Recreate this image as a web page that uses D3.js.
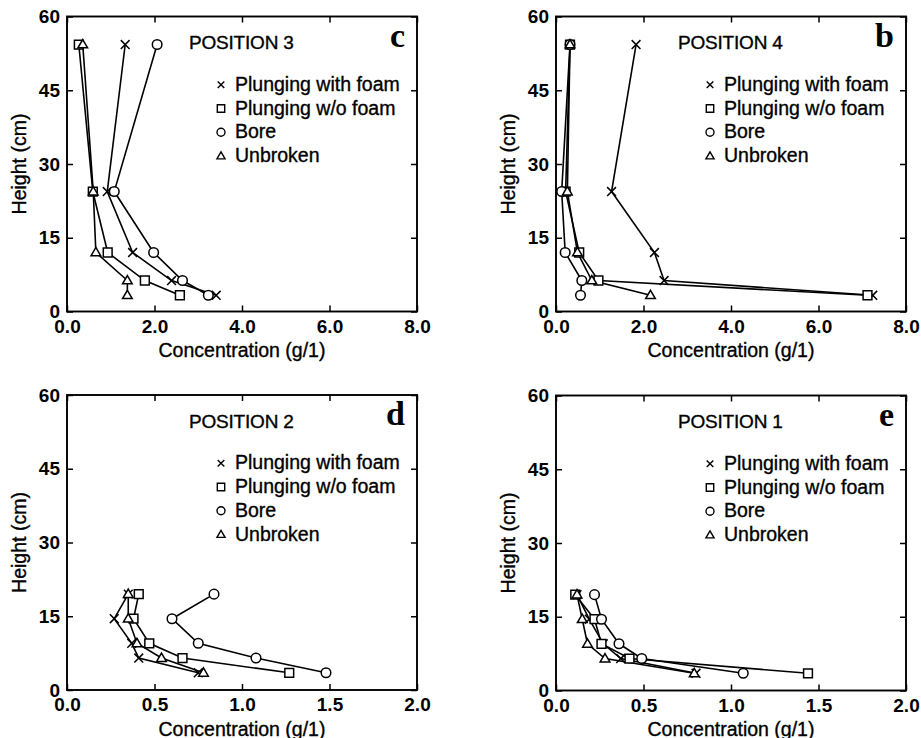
<!DOCTYPE html>
<html>
<head>
<meta charset="utf-8">
<script src="https://cdn.jsdelivr.net/npm/d3@7"></script>
<style>
  html, body { margin: 0; padding: 0; background: #fff; }
  svg { display: block; font-family: "Liberation Sans", Arial, Helvetica, sans-serif; }
</style>
</head>
<body>
<svg id="chart" width="921" height="738"></svg>
<script>
// Suspended sediment concentration profiles at four measuring positions
const seriesNames = ["Plunging with foam", "Plunging w/o foam", "Bore", "Unbroken"];
const seriesSymbols = ["x", "square", "circle", "triangle"];

// Sampling heights (cm)
const upperHeights = [54.3, 24.4, 12.0, 6.3, 3.3];
const lowerHeights = [19.5, 14.5, 9.5, 6.5, 3.5];

// Position 3 concentrations (g/l)
const pos3Foam     = [1.33, 0.92, 1.50, 2.39, 3.41];
const pos3NoFoam   = [0.27, 0.59, 0.93, 1.78, 2.58];
const pos3Bore     = [2.06, 1.08, 1.98, 2.64, 3.23];
const pos3Unbroken = [0.36, 0.60, 0.66, 1.38, 1.38];

// Position 4
const pos4Foam     = [1.83, 1.27, 2.25, 2.47, 7.24];
const pos4NoFoam   = [0.32, 0.22, 0.53, 0.97, 7.12];
const pos4Bore     = [0.32, 0.13, 0.21, 0.59, 0.56];
const pos4Unbroken = [0.32, 0.26, 0.49, 0.82, 2.16];

// Position 2
const pos2Foam     = [0.35, 0.27, 0.37, 0.41, 0.75];
const pos2NoFoam   = [0.41, 0.38, 0.47, 0.66, 1.27];
const pos2Bore     = [0.84, 0.60, 0.75, 1.08, 1.48];
const pos2Unbroken = [0.35, 0.35, 0.40, 0.54, 0.78];

// Position 1
const pos1Foam     = [0.12, 0.19, 0.27, 0.37, 0.80];
const pos1NoFoam   = [0.11, 0.22, 0.26, 0.42, 1.44];
const pos1Bore     = [0.22, 0.26, 0.36, 0.49, 1.07];
const pos1Unbroken = [0.12, 0.15, 0.18, 0.28, 0.79];

// Axis ticks
const upperXTicks = [0, 2, 4, 6, 8];
const lowerXTicks = [0, 0.5, 1, 1.5, 2];
const yTicks = [0, 15, 30, 45, 60];

const panelTitles = ["POSITION 3", "POSITION 4", "POSITION 2", "POSITION 1"];
const panelLetters = ["c", "b", "d", "e"];
const xTitle = "Concentration (g/1)";
const yTitle = "Height (cm)";

// Panel setup
const panels = [
  { left: 67,  top: 16.5, xMax: 8, xTicks: upperXTicks, heights: upperHeights,
    values: [pos3Foam, pos3NoFoam, pos3Bore, pos3Unbroken], title: panelTitles[0], letter: panelLetters[0] },
  { left: 556, top: 16.5, xMax: 8, xTicks: upperXTicks, heights: upperHeights,
    values: [pos4Foam, pos4NoFoam, pos4Bore, pos4Unbroken], title: panelTitles[1], letter: panelLetters[1] },
  { left: 67,  top: 395,  xMax: 2, xTicks: lowerXTicks, heights: lowerHeights,
    values: [pos2Foam, pos2NoFoam, pos2Bore, pos2Unbroken], title: panelTitles[2], letter: panelLetters[2] },
  { left: 556, top: 395.5, xMax: 2, xTicks: lowerXTicks, heights: lowerHeights,
    values: [pos1Foam, pos1NoFoam, pos1Bore, pos1Unbroken], title: panelTitles[3], letter: panelLetters[3] }
];

const W = 350, H = 295;
const svg = d3.select("#chart");

// Open marker shapes, r = half-size
function markerPath(kind, r) {
  const p = d3.path();
  if (kind === "x") {
    p.moveTo(-r, -r); p.lineTo(r, r);
    p.moveTo(-r, r); p.lineTo(r, -r);
  } else if (kind === "square") {
    p.rect(-r, -r, 2 * r, 2 * r);
  } else if (kind === "circle") {
    p.arc(0, 0, r, 0, 2 * Math.PI);
  } else if (kind === "triangle") {
    const h = r * 1.9;
    p.moveTo(0, -h * 0.6);
    p.lineTo(r * 1.1, h * 0.4);
    p.lineTo(-r * 1.1, h * 0.4);
    p.closePath();
  }
  return p.toString();
}

// Slightly heavier sans text
function heavy(sel) {
  return sel.attr("fill", "#000").attr("stroke", "#000").attr("stroke-width", 0.35);
}

panels.forEach(pn => {
  const g = svg.append("g").attr("transform", `translate(${pn.left},${pn.top})`);
  const x = d3.scaleLinear().domain([0, pn.xMax]).range([0, W]);
  const y = d3.scaleLinear().domain([0, 60]).range([H, 0]);
  const fmt = d3.format(".1f");

  // Axes with inward ticks on all four sides
  const bottom = g.append("g").attr("transform", `translate(0,${H})`)
    .call(d3.axisBottom(x).tickValues(pn.xTicks).tickFormat(fmt).tickSizeInner(-6).tickSizeOuter(0).tickPadding(8));
  const left = g.append("g")
    .call(d3.axisLeft(y).tickValues(yTicks).tickFormat(d3.format("d")).tickSizeInner(-6).tickSizeOuter(0).tickPadding(7));
  g.append("g")
    .call(d3.axisTop(x).tickValues(pn.xTicks).tickFormat("").tickSizeInner(-6).tickSizeOuter(0));
  g.append("g").attr("transform", `translate(${W},0)`)
    .call(d3.axisRight(y).tickValues(yTicks).tickFormat("").tickSizeInner(-6).tickSizeOuter(0));

  g.selectAll(".domain").remove();
  g.selectAll(".tick line").attr("stroke", "#000").attr("stroke-width", 1.5);
  [bottom, left].forEach(a => {
    a.attr("font-family", null).attr("font-size", null);
    a.selectAll(".tick text")
      .attr("font-size", 19).attr("font-weight", "bold").attr("fill", "#000");
  });

  // Frame
  g.append("rect").attr("x", 0).attr("y", 0).attr("width", W).attr("height", H)
    .attr("fill", "none").attr("stroke", "#000").attr("stroke-width", 1.9);

  // Axis titles
  heavy(g.append("text").attr("x", W / 2).attr("y", H + 45.5)
    .attr("text-anchor", "middle").attr("font-size", 19.5).text(xTitle));
  heavy(g.append("text").attr("transform", `translate(-41,${H / 2}) rotate(-90)`)
    .attr("text-anchor", "middle").attr("font-size", 19.5).text(yTitle));

  // Panel heading and letter
  heavy(g.append("text").attr("x", 122).attr("y", 32.5).attr("font-size", 19)
    .attr("letter-spacing", -0.2).text(pn.title));
  g.append("text").attr("x", W - 12).attr("y", 30).attr("text-anchor", "end")
    .attr("font-family", "'Liberation Serif', 'Times New Roman', serif")
    .attr("font-weight", "bold").attr("font-size", 34).attr("fill", "#000").text(pn.letter);

  // Profiles
  const line = d3.line().x(d => x(d[0])).y(d => y(d[1]));
  pn.values.forEach(vals => {
    const pts = vals.map((v, i) => [v, pn.heights[i]]);
    g.append("path").datum(pts).attr("d", line)
      .attr("fill", "none").attr("stroke", "#000").attr("stroke-width", 1.6);
  });
  pn.values.forEach((vals, si) => {
    const pts = vals.map((v, i) => [v, pn.heights[i]]);
    const kind = seriesSymbols[si];
    g.selectAll(null).data(pts).enter().append("path")
      .attr("transform", d => `translate(${x(d[0])},${y(d[1])})`)
      .attr("d", markerPath(kind, kind === "circle" ? 4.8 : 4.4))
      .attr("fill", kind === "x" ? "none" : "#fff")
      .attr("stroke", "#000").attr("stroke-width", 1.5);
  });

  // Legend
  const lg = g.append("g").attr("transform", "translate(154,74.2)");
  seriesNames.forEach((name, i) => {
    const row = lg.append("g").attr("transform", `translate(0,${i * 23.8})`);
    const kind = seriesSymbols[i];
    row.append("path").attr("transform", "translate(0,-6)")
      .attr("d", markerPath(kind, kind === "circle" ? 4.0 : kind === "x" ? 3.3 : 3.7))
      .attr("fill", "none").attr("stroke", "#000").attr("stroke-width", 1.4);
    heavy(row.append("text").attr("x", 14).attr("y", 0).attr("font-size", 19.5).text(name));
  });
});
</script>
</body>
</html>
